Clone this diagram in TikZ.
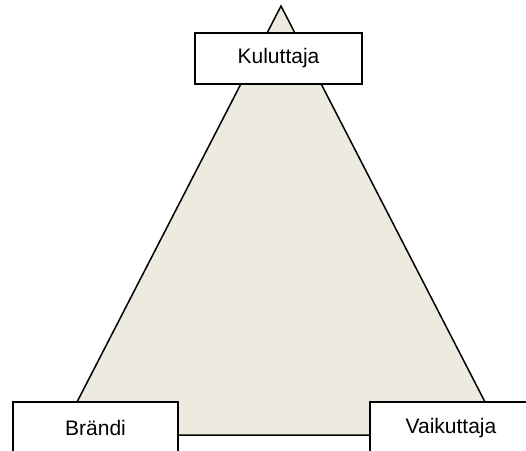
\documentclass[tikz,border=0pt]{standalone}
\usepackage{fontspec}
\setmainfont{Liberation Sans}
\definecolor{tri}{HTML}{EDEBE0}
\begin{document}
\begin{tikzpicture}[x=1pt,y=-1pt,
  lbl/.style={draw=black,line width=1.6pt,fill=white,rectangle,inner sep=0pt,
    font=\fontsize{21}{24}\selectfont},
  edge/.style={draw=black,line width=1.5pt,line join=miter}]
\useasboundingbox (0,0) rectangle (526,450);
\clip (0,0) rectangle (526,450);
\coordinate (apex) at (281,6);
\coordinate (bl) at (60,435);
\coordinate (br) at (502,435);
\fill[tri] (apex) -- (bl) -- (br) -- cycle;
\draw[edge] (apex) -- (bl) -- (br) -- cycle;
\node[lbl,minimum width=167pt,minimum height=51pt] (kul) at (278.5,58.5) {Kuluttaja};
\node[lbl,minimum width=165pt,minimum height=52pt] (bra) at (95.5,428) {Brändi};
\node[lbl,minimum width=162pt,minimum height=52pt] (vai) at (451,428) {Vaikuttaja};
\end{tikzpicture}
\end{document}
